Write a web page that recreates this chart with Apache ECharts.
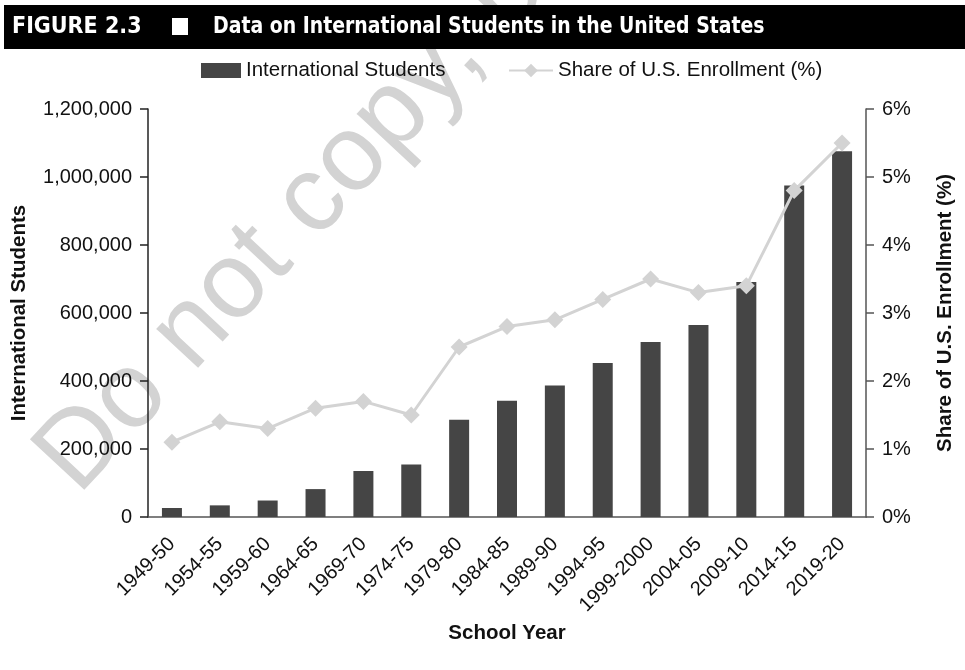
<!DOCTYPE html>
<html>
<head>
<meta charset="utf-8">
<script src="https://cdn.jsdelivr.net/npm/echarts@6/dist/echarts.min.js"></script>
<style>html,body{margin:0;padding:0;background:#fff;}#c{width:965px;height:670px;}</style>
</head>
<body>
<div id="c"></div>
<script>
const categories = ['1949-50','1954-55','1959-60','1964-65','1969-70','1974-75','1979-80','1984-85','1989-90','1994-95','1999-2000','2004-05','2009-10','2014-15','2019-20'];
const students = [26433, 34232, 48486, 82045, 134959, 154580, 286343, 342113, 386851, 452635, 514723, 565039, 690923, 974926, 1075496];
const sharePct = [1.1, 1.4, 1.3, 1.6, 1.7, 1.5, 2.5, 2.8, 2.9, 3.2, 3.5, 3.3, 3.4, 4.8, 5.5];
const seriesNames = ['International Students', 'Share of U.S. Enrollment (%)'];
const figureLabel = 'FIGURE 2.3';
const figureTitle = 'Data on International Students in the United States';
const watermark = 'Do not copy, post, or distribute';

const chart = echarts.init(document.getElementById('c'), null, {renderer:'canvas'});
const FONT = '"Liberation Sans", Arial, Helvetica, sans-serif';
const TFONT = '"DejaVu Sans Condensed", "Liberation Sans", sans-serif';
const option = {
  animation: false,
  backgroundColor: '#fff',
  textStyle: {fontFamily: FONT},
  graphic: [
    {type:'text', z:-10, x:17, y:439, rotation:47 * Math.PI / 180,
     style:{text:watermark, font:'108px ' + FONT, fill:'#d3d3d3', textAlign:'left', textVerticalAlign:'top'}},
    {type:'rect', shape:{x:4, y:5, width:961, height:44}, style:{fill:'#000'}},
    {type:'text', x:12, y:27, style:{text:figureLabel, font:'bold 23px ' + TFONT, fill:'#fff', textVerticalAlign:'middle'}},
    {type:'rect', shape:{x:172, y:18, width:16, height:17}, style:{fill:'#fff'}},
    {type:'text', x:213, y:27, scaleX:0.912, style:{text:figureTitle, font:'bold 23px ' + TFONT, fill:'#fff', textVerticalAlign:'middle'}}
  ],
  legend: [
    {left: 196, top: 55, itemWidth: 40, itemHeight: 15,
     textStyle: {fontSize: 20.5, color: '#111', fontFamily: FONT},
     data: [{name: seriesNames[0], icon: 'rect'}]},
    {left: 503, top: 55, itemWidth: 44, itemHeight: 17,
     textStyle: {fontSize: 20.5, color: '#111', fontFamily: FONT},
     data: [{name: seriesNames[1]}]}
  ],
  grid: {left: 148, right: 99, top: 109, bottom: 153},
  xAxis: {
    type: 'category', data: categories,
    axisLine: {lineStyle: {color: '#555', width: 1.5}},
    axisTick: {length: 8, lineStyle: {color: '#555', width: 1.5}},
    axisLabel: {rotate: 45, fontSize: 20, color: '#111', margin: 24, interval: 0},
    name: 'School Year', nameLocation: 'middle', nameGap: 106,
    nameTextStyle: {fontWeight: 'bold', fontSize: 20.5, color: '#111'}
  },
  yAxis: [
    {type: 'value', min: 0, max: 1200000, interval: 200000,
     splitLine: {show: false},
     axisLine: {show: true, lineStyle: {color: '#222', width: 1.5}},
     axisTick: {show: true, length: 8, lineStyle: {color: '#222', width: 1.5}},
     axisLabel: {margin: 16, fontSize: 20, color: '#111', formatter: v => v.toLocaleString('en-US')},
     name: seriesNames[0], nameLocation: 'middle', nameRotate: 90, nameGap: 118,
     nameTextStyle: {fontWeight: 'bold', fontSize: 20.5, color: '#111'}},
    {type: 'value', min: 0, max: 6, interval: 1, position: 'right',
     splitLine: {show: false},
     axisLine: {show: true, lineStyle: {color: '#555', width: 1.5}},
     axisTick: {show: true, length: 8, lineStyle: {color: '#555', width: 1.5}},
     axisLabel: {margin: 16, fontSize: 20, color: '#111', formatter: '{value}%'},
     name: seriesNames[1], nameLocation: 'middle', nameRotate: 90, nameGap: 69,
     nameTextStyle: {fontWeight: 'bold', fontSize: 20.5, color: '#111'}}
  ],
  series: [
    {name: seriesNames[0], type: 'bar', data: students, yAxisIndex: 0,
     barWidth: 20, itemStyle: {color: '#454545'}},
    {name: seriesNames[1], type: 'line', data: sharePct, yAxisIndex: 1,
     symbol: 'diamond', symbolSize: 17, lineStyle: {color: '#d3d3d3', width: 3},
     itemStyle: {color: '#d3d3d3'}}
  ]
};
chart.setOption(option);
</script>
</body>
</html>
